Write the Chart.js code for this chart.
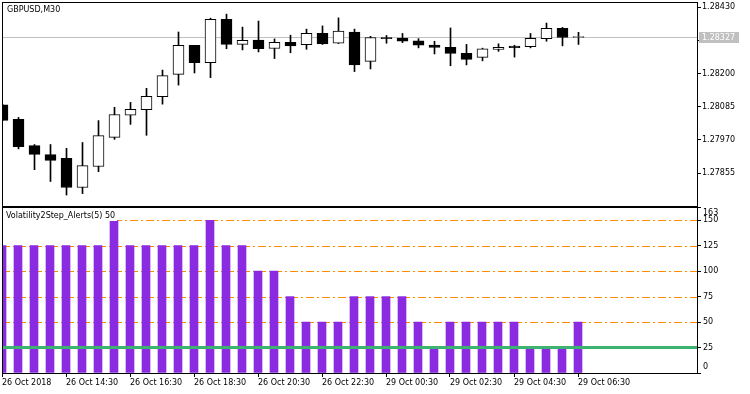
<!DOCTYPE html>
<html>
<head>
<meta charset="utf-8">
<script src="https://cdn.jsdelivr.net/npm/chart.js@4.4.1/dist/chart.umd.min.js"></script>
<style>
  body { margin: 0; background: #fff; }
  #wrap { position: relative; width: 750px; height: 394px; background: #fff; }
  canvas { position: absolute; left: 0; }
</style>
</head>
<body>
<div id="wrap">
  <canvas id="price" width="750" height="207" style="top:0"></canvas>
  <canvas id="vol" width="750" height="187" style="top:207px"></canvas>
</div>
<script>
// GBPUSD M30 candles
const opens  = [1.28092,1.28041,1.27950,1.27919,1.27906,1.27805,1.27878,1.27979,1.28056,1.28075,1.28120,1.28197,1.28298,1.28238,1.28388,1.28301,1.28316,1.28287,1.28308,1.28300,1.28339,1.28305,1.28344,1.28242,1.28325,1.28323,1.28313,1.28299,1.28291,1.28270,1.28256,1.28284,1.28295,1.28293,1.28321,1.28357,1.28325];
const highs  = [1.28093,1.28048,1.27954,1.27954,1.27941,1.27961,1.28037,1.28083,1.28100,1.28149,1.28212,1.28344,1.28298,1.28392,1.28406,1.28361,1.28382,1.28320,1.28333,1.28354,1.28365,1.28393,1.28354,1.28329,1.28332,1.28339,1.28321,1.28312,1.28358,1.28301,1.28288,1.28303,1.28298,1.28339,1.28375,1.28360,1.28343];
const lows   = [1.28037,1.27939,1.27867,1.27826,1.27779,1.27784,1.27860,1.27972,1.28024,1.27986,1.28094,1.28160,1.28202,1.28186,1.28286,1.28282,1.28275,1.28252,1.28272,1.28284,1.28301,1.28304,1.28207,1.28216,1.28305,1.28307,1.28289,1.28268,1.28227,1.28230,1.28244,1.28277,1.28257,1.28289,1.28312,1.28296,1.28301];
const closes = [1.28038,1.27947,1.27920,1.27899,1.27805,1.27881,1.27985,1.28058,1.28076,1.28121,1.28193,1.28298,1.28238,1.28388,1.28301,1.28315,1.28286,1.28308,1.28296,1.28339,1.28303,1.28347,1.28230,1.28325,1.28321,1.28312,1.28298,1.28291,1.28270,1.28249,1.28286,1.28291,1.28290,1.28322,1.28357,1.28325,1.28327];
const currentPrice = 1.28327;
const priceTicks = [1.28430, 1.28315, 1.28200, 1.28085, 1.27970, 1.27855];

// Volatility2Step_Alerts(5) histogram
const volatility = [125,125,125,125,125,125,125,150,125,125,125,125,125,150,125,125,100,100,75,50,50,50,75,75,75,75,50,25,50,50,50,50,50,25,25,25,50];
const levels = [50, 75, 100, 125, 150];
const signalLevel = 25;
const volTicks = [0, 25, 50, 75, 100, 125, 150, 163];

// time axis
const timeTickIdx = [0, 4, 8, 12, 16, 20, 24, 28, 32, 36];
const timeLabels = ['26 Oct 2018','26 Oct 14:30','26 Oct 16:30','26 Oct 18:30','26 Oct 20:30','26 Oct 22:30','29 Oct 00:30','29 Oct 02:30','29 Oct 04:30','29 Oct 06:30'];

const FONT = { family: 'DejaVu Sans', size: 8 };
const FONT_CSS = '8px "DejaVu Sans"';
const SPAN = 695 / 16; // bars visible across the plot
const idx = opens.map((_, i) => i);

function noPad(s) {
  s.paddingTop = 0; s.paddingBottom = 0; s.paddingLeft = 0; s.paddingRight = 0;
}

const frame = {
  id: 'frame',
  afterDraw(chart) {
    const { ctx, chartArea: a } = chart;
    ctx.save();
    ctx.strokeStyle = '#000';
    ctx.lineWidth = 1;
    ctx.strokeRect(a.left + 0.5, a.top + 0.5, a.right - a.left, a.bottom - a.top);
    ctx.restore();
  }
};

const priceDeco = {
  id: 'priceDeco',
  beforeDatasetsDraw(chart) {
    const { ctx, chartArea: a } = chart;
    const y = Math.round(chart.scales.y.getPixelForValue(currentPrice)) + 0.5;
    ctx.save();
    ctx.strokeStyle = '#c0c0c0';
    ctx.beginPath(); ctx.moveTo(a.left, y); ctx.lineTo(a.right, y); ctx.stroke();
    ctx.restore();
  },
  afterDraw(chart) {
    const { ctx, chartArea: a } = chart;
    const y = Math.round(chart.scales.y.getPixelForValue(currentPrice));
    ctx.save();
    ctx.fillStyle = '#c0c0c0';
    ctx.fillRect(a.right + 2, y - 5, 40, 11);
    ctx.fillStyle = '#fff';
    ctx.font = FONT_CSS;
    ctx.textBaseline = 'middle';
    ctx.fillText(currentPrice.toFixed(5), a.right + 5, y + 0.5);
    ctx.fillStyle = '#000';
    ctx.textBaseline = 'top';
    ctx.fillText('GBPUSD,M30', a.left + 5, a.top + 4);
    ctx.restore();
  }
};

new Chart(document.getElementById('price'), {
  type: 'bar',
  data: {
    datasets: [
      {
        data: idx.map(i => ({ x: i, y: [lows[i], highs[i]] })),
        backgroundColor: '#000',
        barThickness: 1,
        grouped: false,
        order: 2
      },
      {
        data: idx.map(i => ({ x: i, y: [opens[i], closes[i]] })),
        backgroundColor: idx.map(i => closes[i] >= opens[i] ? '#fff' : '#000'),
        borderColor: '#000',
        borderWidth: 1,
        borderSkipped: false,
        barThickness: 11,
        minBarLength: 1,
        grouped: false,
        order: 1
      }
    ]
  },
  options: {
    responsive: false,
    animation: false,
    layout: { padding: { left: 2, top: 2, bottom: 1, right: 0 } },
    plugins: { legend: { display: false }, tooltip: { enabled: false } },
    scales: {
      x: { type: 'linear', min: -0.03125, max: -0.03125 + SPAN, offset: false, display: false },
      y: {
        position: 'right',
        min: 1.27741,
        max: 1.28448,
        afterFit(s) { s.width = 53; noPad(s); },
        afterBuildTicks(s) { s.ticks = priceTicks.map(v => ({ value: v })); },
        border: { display: false },
        grid: { drawOnChartArea: false, tickLength: 4, color: '#000' },
        ticks: { font: FONT, color: '#000', padding: 1, callback: v => v.toFixed(5) }
      }
    }
  },
  plugins: [priceDeco, frame]
});

const volDeco = {
  id: 'volDeco',
  beforeDatasetsDraw(chart) {
    const { ctx, chartArea: a } = chart;
    const ys = chart.scales.y;
    ctx.save();
    ctx.strokeStyle = '#ff8c00';
    ctx.lineWidth = 1;
    ctx.setLineDash([8, 3, 2, 3]);
    levels.forEach(v => {
      const y = Math.round(ys.getPixelForValue(v)) + 0.5;
      ctx.beginPath(); ctx.moveTo(a.left, y); ctx.lineTo(a.right, y); ctx.stroke();
    });
    ctx.restore();
  },
  afterDatasetsDraw(chart) {
    const { ctx, chartArea: a } = chart;
    const ys = chart.scales.y;
    ctx.save();
    ctx.strokeStyle = '#3cb371';
    ctx.lineWidth = 3;
    const y = ys.getPixelForValue(signalLevel);
    ctx.beginPath(); ctx.moveTo(a.left, y); ctx.lineTo(a.right, y); ctx.stroke();
    // indicator name
    ctx.font = FONT_CSS;
    const name = 'Volatility2Step_Alerts(5) 50';
    const w = ctx.measureText(name).width;
    ctx.fillStyle = '#fff';
    ctx.fillRect(a.left + 1, a.top + 2, w + 5, 12);
    ctx.fillStyle = '#000';
    ctx.textBaseline = 'middle';
    ctx.fillText(name, a.left + 4, a.top + 9);
    ctx.restore();
  },
  afterDraw(chart) {
    const { ctx, chartArea: a } = chart;
    const ys = chart.scales.y;
    ctx.save();
    ctx.font = FONT_CSS;
    ctx.fillStyle = '#000';
    ctx.textBaseline = 'middle';
    volTicks.forEach(v => {
      let y = ys.getPixelForValue(v);
      y = Math.min(Math.max(y, a.top + 6), a.bottom - 6);
      ctx.fillText(String(v), a.right + 6, y);
    });
    ctx.restore();
  }
};

new Chart(document.getElementById('vol'), {
  type: 'bar',
  data: {
    datasets: [{
      data: idx.map(i => ({ x: i, y: volatility[i] })),
      backgroundColor: '#8a2be2',
      barThickness: 8
    }]
  },
  options: {
    responsive: false,
    animation: false,
    layout: { padding: { left: 2, top: 0, bottom: 0, right: 0 } },
    plugins: { legend: { display: false }, tooltip: { enabled: false } },
    scales: {
      x: {
        type: 'linear',
        min: 0,
        max: SPAN,
        offset: false,
        afterFit(s) { s.height = 21; noPad(s); },
        afterBuildTicks(s) { s.ticks = timeTickIdx.map(v => ({ value: v })); },
        border: { display: false },
        grid: { drawOnChartArea: false, offset: false, tickLength: 4, color: '#000' },
        ticks: {
          font: FONT, color: '#000', padding: 1, align: 'start',
          maxRotation: 0, autoSkip: false,
          callback: v => timeLabels[timeTickIdx.indexOf(v)]
        }
      },
      y: {
        position: 'right',
        min: 0,
        max: 163,
        afterFit(s) { s.width = 53; noPad(s); },
        afterBuildTicks(s) { s.ticks = volTicks.map(v => ({ value: v })); },
        border: { display: false },
        grid: { drawOnChartArea: false, tickLength: 4, color: '#000' },
        ticks: { font: FONT, color: 'rgba(0,0,0,0)', padding: 2 }
      }
    }
  },
  plugins: [volDeco, frame]
});
</script>
</body>
</html>
